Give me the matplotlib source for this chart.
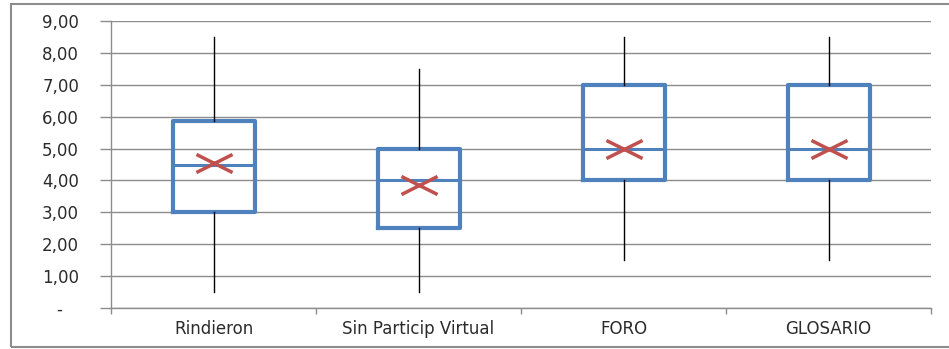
import matplotlib
matplotlib.use("Agg")
import matplotlib.pyplot as plt
from matplotlib.path import Path
from matplotlib.patches import Rectangle
from matplotlib.ticker import FuncFormatter

# Five-number summaries and means per group
groups = ["Rindieron", "Sin Particip Virtual", "FORO", "GLOSARIO"]
whisker_low = [0.5, 0.5, 1.5, 1.5]
q1 = [3.0, 2.5, 4.0, 4.0]
median = [4.5, 4.0, 5.0, 5.0]
q3 = [5.85, 5.0, 7.0, 7.0]
whisker_high = [8.5, 7.5, 8.5, 8.5]
means = [4.55, 3.85, 5.0, 5.0]

BLUE = "#4F81BD"
RED = "#C0504D"
GRID = "#8C8C8C"
TEXT = "#2B2B2B"

plt.rcParams["font.family"] = ["DejaVu Sans"]

W, H = 949, 349
fig = plt.figure(figsize=(W / 100, H / 100), dpi=100)
ax = fig.add_axes([111 / W, 1 - 308 / H, (931 - 111) / W, (308 - 21) / H])

stats = []
for i, g in enumerate(groups):
    stats.append({
        "label": g,
        "whislo": whisker_low[i],
        "q1": q1[i],
        "med": median[i],
        "q3": q3[i],
        "whishi": whisker_high[i],
        "mean": means[i],
        "fliers": [],
    })

# flattened x marker for the mean
cross = Path([(-1, -0.5), (1, 0.5), (-1, 0.5), (1, -0.5)],
             [Path.MOVETO, Path.LINETO, Path.MOVETO, Path.LINETO])

positions = list(range(len(groups)))
ax.bxp(stats, positions=positions, widths=0.4, showcaps=False, showmeans=True,
       boxprops=dict(color=BLUE, linewidth=3),
       medianprops=dict(color=BLUE, linewidth=2.2),
       whiskerprops=dict(color="black", linewidth=1),
       meanprops=dict(marker=cross, markersize=26, markeredgecolor=RED,
                      markerfacecolor=RED, markeredgewidth=2.5))

ax.set_xlim(-0.5, len(groups) - 0.5)
ax.set_ylim(0, 9)
ax.set_yticks(range(0, 10))
ax.yaxis.set_major_formatter(FuncFormatter(
    lambda v, p: "-   " if v == 0 else f"{v:.2f}".replace(".", ",")))
ax.yaxis.grid(True, color=GRID, linewidth=1)
ax.set_axisbelow(True)

ax.set_xticks(positions)
ax.set_xticklabels(groups)
ax.set_xticks([p - 0.5 for p in positions] + [len(groups) - 0.5], minor=True)
ax.tick_params(axis="x", which="major", length=0, pad=9, labelsize=12, labelcolor=TEXT)
ax.tick_params(axis="x", which="minor", length=4, color=GRID, width=1)
ax.tick_params(axis="y", length=8, color=GRID, width=1, pad=15, labelsize=12, labelcolor=TEXT)

for side in ["top", "right"]:
    ax.spines[side].set_visible(False)
for side in ["left", "bottom"]:
    ax.spines[side].set_color(GRID)
    ax.spines[side].set_linewidth(1)

# outer chart frame
fig.patches.append(Rectangle((11 / W, 1 - 347 / H), 1.0, (347 - 4) / H,
                             transform=fig.transFigure, fill=False,
                             edgecolor="#8C8C8C", linewidth=1.5))

fig.savefig("out.png", dpi=100)
